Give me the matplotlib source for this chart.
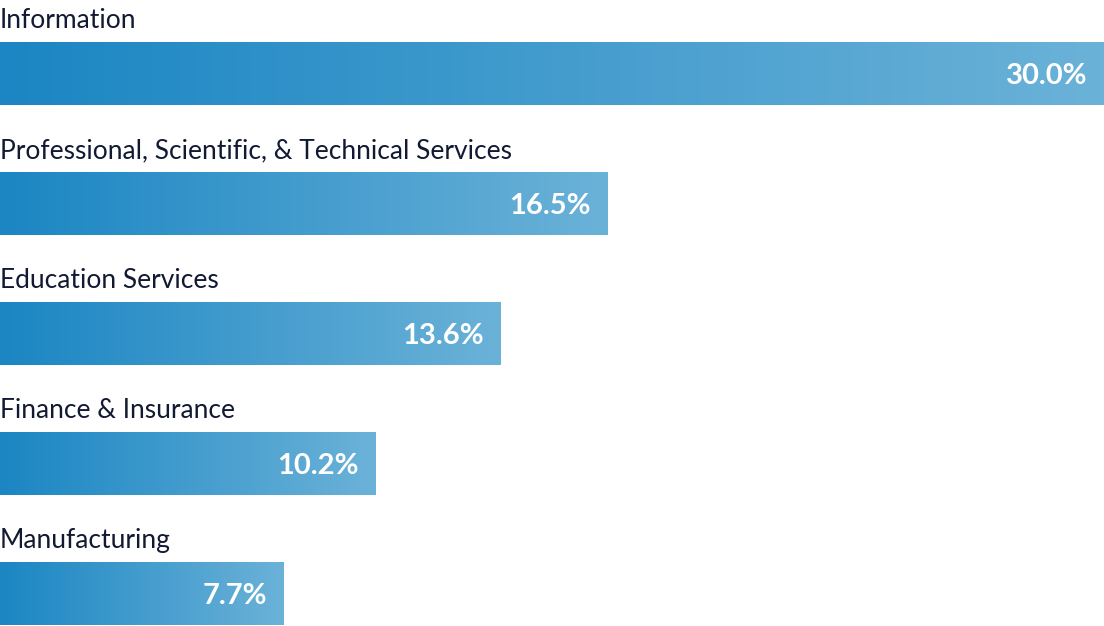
import numpy as np
import matplotlib
matplotlib.use("Agg")
import matplotlib.pyplot as plt
from matplotlib.colors import LinearSegmentedColormap

categories = [
    "Information",
    "Professional, Scientific, & Technical Services",
    "Education Services",
    "Finance & Insurance",
    "Manufacturing",
]
shares = [30.0, 16.5, 13.6, 10.2, 7.7]
value_labels = ["30.0%", "16.5%", "13.6%", "10.2%", "7.7%"]

plt.rcParams["font.family"] = ["Lato", "DejaVu Sans"]

fig = plt.figure(figsize=(11.04, 6.26), dpi=100)
ax = fig.add_axes([0, 0, 1, 1])

row = 130.0  # pixels per row
bar_h = 63 / row
ypos = np.arange(len(categories))

bars = ax.barh(ypos, shares, height=bar_h, color="none", edgecolor="none")

cmap = LinearSegmentedColormap.from_list("blues", ["#1b86c3", "#6bb2d8"])
grad = np.linspace(0, 1, 256).reshape(1, -1)

for bar, name, lab in zip(bars, categories, value_labels):
    x0, y0 = bar.get_x(), bar.get_y()
    w, h = bar.get_width(), bar.get_height()
    im = ax.imshow(grad, cmap=cmap, aspect="auto",
                   extent=(x0, x0 + w, y0 + h, y0), interpolation="bicubic")
    im.set_clip_path(bar)
    ax.text(0.0, y0 - 14 / row, name, ha="left", va="baseline",
            fontsize=19, color="#121a33")
    ax.annotate(lab, xy=(x0 + w, y0 + h / 2), xytext=(-12, 0),
                textcoords="offset points", ha="right", va="center_baseline",
                fontsize=21, color="white", fontweight="bold")

ax.set_xlim(0, 30.0)
ax.set_ylim(len(categories) - 1 + 32.5 / row, -73.5 / row)
ax.axis("off")

fig.savefig("out.png", dpi=100)
